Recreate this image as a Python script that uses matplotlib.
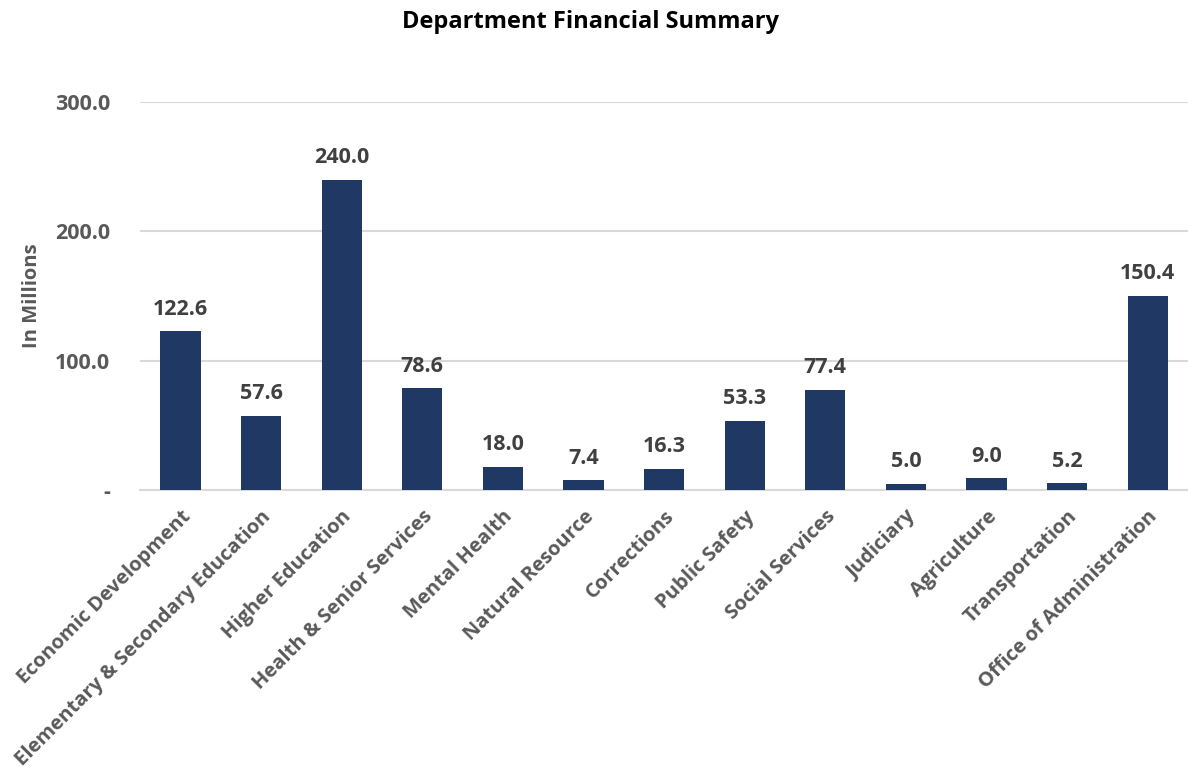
import matplotlib
matplotlib.use('Agg')
import matplotlib.pyplot as plt

departments = ['Economic Development', 'Elementary & Secondary Education', 'Higher Education',
               'Health & Senior Services', 'Mental Health', 'Natural Resource', 'Corrections',
               'Public Safety', 'Social Services', 'Judiciary', 'Agriculture', 'Transportation',
               'Office of Administration']
amounts = [122.6, 57.6, 240.0, 78.6, 18.0, 7.4, 16.3, 53.3, 77.4, 5.0, 9.0, 5.2, 150.4]
y_ticks = [0, 100, 200, 300]
y_tick_labels = ['-', '100.0', '200.0', '300.0']

plt.rcParams['font.family'] = ['Open Sans', 'DejaVu Sans']
plt.rcParams['font.weight'] = 'bold'

fig = plt.figure(figsize=(11.88, 7.68), dpi=100)
ax = fig.add_axes([0.118, 0.362, 0.882, 0.505])

x = range(len(departments))
bars = ax.bar(x, amounts, width=0.5, color='#203864', zorder=3)
for b, v in zip(bars, amounts):
    ax.text(b.get_x() + b.get_width() / 2, v + 9, f'{v:.1f}', ha='center', va='bottom',
            fontsize=15.5, fontweight='bold', color='#404040')

ax.set_xlim(-0.5, len(departments) - 0.5)
ax.set_ylim(0, 300)
ax.set_yticks(y_ticks)
ax.set_yticklabels(y_tick_labels, fontsize=15.5, fontweight='bold', color='#595959')
ax.set_xticks(list(x))
ax.set_xticklabels(departments, rotation=45, ha='right', rotation_mode='anchor',
                   fontsize=14.5, fontweight='bold', color='#595959')
ax.tick_params(axis='both', length=0)
ax.tick_params(axis='y', pad=21.5)
ax.tick_params(axis='x', pad=12)
ax.grid(axis='y', color='#D9D9D9', linewidth=1.5, zorder=0)
for s in ['top', 'right', 'left']:
    ax.spines[s].set_visible(False)
ax.spines['bottom'].set_color('#D9D9D9')
ax.spines['bottom'].set_linewidth(1.5)

ax.set_ylabel('In Millions', fontsize=14.5, fontweight='bold', color='#595959')
ax.yaxis.set_label_coords(-0.094, 0.5)
fig.text(0.497, 0.971, 'Department Financial Summary', ha='center', va='center',
         fontsize=17, fontweight='bold', color='black')

fig.savefig('out.png', dpi=100)
